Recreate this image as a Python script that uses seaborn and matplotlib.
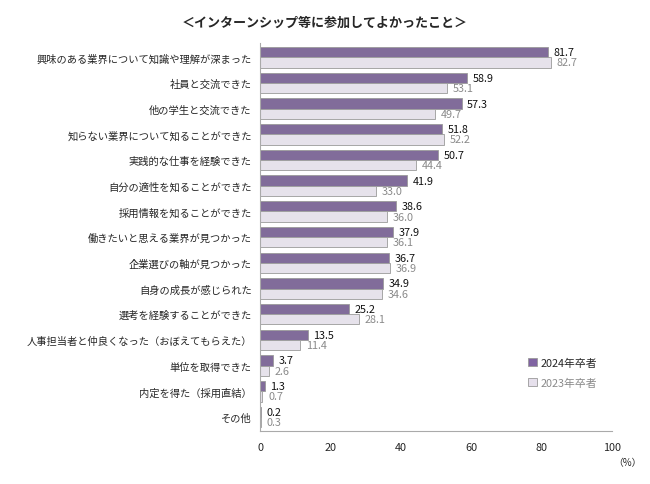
import pandas as pd
import seaborn as sns
import matplotlib.pyplot as plt
from matplotlib.ticker import FixedLocator
from matplotlib.patches import Patch

# データ（インターンシップ等に参加してよかったこと）
項目 = ["興味のある業界について知識や理解が深まった", "社員と交流できた", "他の学生と交流できた",
      "知らない業界について知ることができた", "実践的な仕事を経験できた", "自分の適性を知ることができた",
      "採用情報を知ることができた", "働きたいと思える業界が見つかった", "企業選びの軸が見つかった",
      "自身の成長が感じられた", "選考を経験することができた", "人事担当者と仲良くなった（おぼえてもらえた）",
      "単位を取得できた", "内定を得た（採用直結）", "その他"]
卒2024 = [81.7, 58.9, 57.3, 51.8, 50.7, 41.9, 38.6, 37.9, 36.7, 34.9, 25.2, 13.5, 3.7, 1.3, 0.2]
卒2023 = [82.7, 53.1, 49.7, 52.2, 44.4, 33.0, 36.0, 36.1, 36.9, 34.6, 28.1, 11.4, 2.6, 0.7, 0.3]
系列 = ["2024年卒者", "2023年卒者"]

tabela = pd.DataFrame({
    "項目": 項目 * 2,
    "値": 卒2024 + 卒2023,
    "系列": [系列[0]] * len(項目) + [系列[1]] * len(項目),
})

sns.set_style("white")
plt.rcParams["font.family"] = ["Noto Sans CJK JP", "DejaVu Sans"]

fig = plt.figure(figsize=(6.5, 4.85), dpi=100)
ax = fig.add_axes([0.4, 0.109, 0.5415, 0.8])

cores = {系列[0]: "#8064A2", 系列[1]: "#E6E0EC"}
sns.barplot(data=tabela, x="値", y="項目", hue="系列", orient="h", palette=cores,
            width=0.8, edgecolor="#9A9A9A", linewidth=0.6, ax=ax, legend=False)

# 数値ラベル
for cont, cor in zip(ax.containers, ["#111111", "#8A8A8A"]):
    ax.bar_label(cont, fmt="%.1f", padding=4, fontsize=7.8, color=cor)

ax.set_xlim(0, 100)
ax.set_ylim(len(項目) - 0.45, -0.55)
ax.set_xticks([0, 20, 40, 60, 80, 100])
ax.set_xlabel("")
ax.set_ylabel("")
ax.tick_params(axis="x", length=4, color="#AAAAAA", labelsize=7.8, pad=6, direction="inout")
ax.tick_params(axis="y", length=0, labelsize=7.4, pad=6)
ax.yaxis.set_minor_locator(FixedLocator([i - 0.5 for i in range(len(項目) + 1)]))
ax.tick_params(axis="y", which="minor", length=3, color="#AAAAAA")
for s in ["top", "right"]:
    ax.spines[s].set_visible(False)
for s in ["left", "bottom"]:
    ax.spines[s].set_color("#AAAAAA")
    ax.spines[s].set_linewidth(0.8)

# 凡例
h = [Patch(facecolor=cores[s], edgecolor="#9A9A9A", linewidth=0.6) for s in 系列]
leg = ax.legend(h, 系列, loc="upper left", bbox_to_anchor=(0.735, 0.215), frameon=False,
                fontsize=7.8, handlelength=0.8, handleheight=0.8, handletextpad=0.3, labelspacing=0.9)
leg.get_texts()[1].set_color("#8A8A8A")

fig.text(0.5, 0.953, "＜インターンシップ等に参加してよかったこと＞", ha="center", va="center",
         fontsize=9.4, fontweight="bold")
fig.text(0.965, 0.045, "（%）", ha="center", va="center", fontsize=7)

plt.savefig("out.png", dpi=100)
